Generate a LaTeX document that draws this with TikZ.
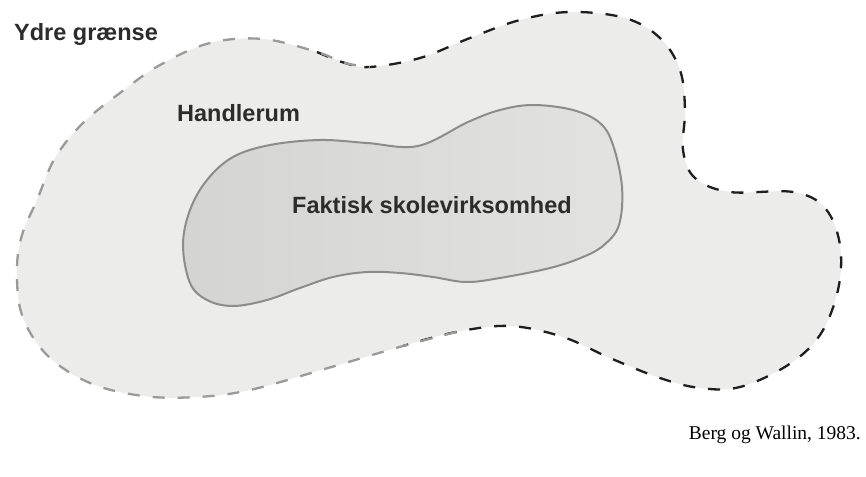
\documentclass[tikz,border=0pt]{standalone}
\usepackage{fontspec}
\newfontfamily\labelfont{Liberation Sans}
\newfontfamily\creditfont{Liberation Serif}
\definecolor{outerfill}{HTML}{ECECEA}
\definecolor{innerL}{HTML}{D4D4D2}
\definecolor{innerR}{HTML}{E2E2E0}
\definecolor{inneredge}{HTML}{8C8C8A}
\definecolor{dashdark}{HTML}{1E1E1E}
\definecolor{dashgray}{HTML}{9A9A98}
\definecolor{labeltext}{HTML}{2C2C2C}
\tikzset{
  boundary/.style={line width=2.3bp, dash pattern=on 12bp off 13bp, line cap=butt},
  region/.style={font=\labelfont\bfseries\fontsize{23.5bp}{27bp}\selectfont, text=labeltext, inner sep=0pt},
  credit/.style={font=\creditfont\fontsize{19.5bp}{22bp}\selectfont, text=black, inner sep=0pt}
}
\begin{document}
\begin{tikzpicture}[x=1bp,y=-1bp]
\useasboundingbox[fill=white] (0,0) rectangle (866,477);
% outer region fill
\fill[outerfill] plot[smooth cycle, tension=0.6] coordinates {
(17,270) (22,235) (37,200) (55,158) (83,123) (120,93) (160,65) (210,43) (263,39) (317,52) (345,63) (370,67) (420,58) (470,38) (520,20) (570,12) (625,18) (660,38) (680,70) (685,110) (683,150) (695,178) (730,192) (793,192) (825,208) (840,245) (838,290) (820,335) (788,365) (740,387) (700,388) (660,378) (610,358) (563,337) (510,326) (456,332) (403,346) (328,368) (250,390) (197,397) (143,396) (90,383) (47,355) (22,315)};
% outer boundary, darker part
\draw[boundary, dashdark] plot[smooth, tension=0.6] coordinates {
(317,52) (345,63) (370,67) (420,58) (470,38) (520,20) (570,12) (625,18) (660,38) (680,70) (685,110) (683,150) (695,178) (730,192) (793,192) (825,208) (840,245) (838,290) (820,335) (788,365) (740,387) (700,388) (660,378) (610,358) (563,337) (510,326) (456,332) (403,346)};
% outer boundary, faded part
\draw[boundary, dashgray] plot[smooth, tension=0.6] coordinates {
(456,332) (403,346) (328,368) (250,390) (197,397) (143,396) (90,383) (47,355) (22,315) (17,270) (22,235) (37,200) (55,158) (83,123) (120,93) (160,65) (210,43) (263,39) (317,52) (345,63) (370,67)};
% inner region
\shade[left color=innerL, right color=innerR] plot[smooth cycle, tension=0.6] coordinates {
(183,245) (190,210) (207,180) (233,157) (270,145) (320,140) (367,143) (418,146) (468,122) (500,110) (533,105) (573,110) (600,123) (613,145) (622,187) (619,225) (604,245) (583,257) (550,268) (500,278) (466,282) (433,277) (400,273) (367,272) (333,277) (300,288) (267,300) (233,306) (207,300) (190,283)};
\draw[inneredge, line width=2bp] plot[smooth cycle, tension=0.6] coordinates {
(183,245) (190,210) (207,180) (233,157) (270,145) (320,140) (367,143) (418,146) (468,122) (500,110) (533,105) (573,110) (600,123) (613,145) (622,187) (619,225) (604,245) (583,257) (550,268) (500,278) (466,282) (433,277) (400,273) (367,272) (333,277) (300,288) (267,300) (233,306) (207,300) (190,283)};
% labels
\node[region, anchor=base west] (ydre) at (14,41) {Ydre grænse};
\node[region, anchor=base west] (handle) at (177,122) {Handlerum};
\node[region, anchor=base west] (faktisk) at (292,214) {Faktisk skolevirksomhed};
\node[credit, anchor=base east] (kilde) at (861,439) {Berg og Wallin, 1983.};
\end{tikzpicture}
\end{document}
